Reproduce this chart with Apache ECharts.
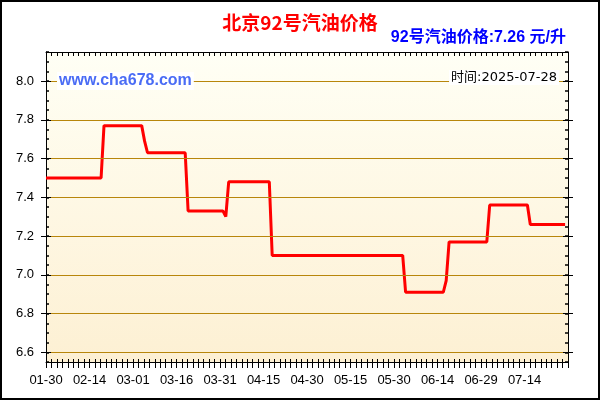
<!DOCTYPE html>
<html>
<head>
<meta charset="utf-8">
<title>北京92号汽油价格</title>
<script src="https://cdn.jsdelivr.net/npm/echarts@6.0.0/dist/echarts.min.js"></script>
<style>
  html, body { margin: 0; padding: 0; background: #fff; }
  .echarts_1 { width: 600px; height: 400px; }
</style>
</head>
<body>
<div class="echarts_1"></div>
<script>
  // 数据：日期和当天的92号汽油价格（元/升）
  var startDate = '2025-01-30';
  var dates = ['2025-01-30', '2025-02-18', '2025-02-19', '2025-03-04', '2025-03-05', '2025-03-06',
               '2025-03-19', '2025-03-20', '2025-04-01', '2025-04-02', '2025-04-03', '2025-04-17',
               '2025-04-18', '2025-06-02', '2025-06-03', '2025-06-16', '2025-06-17', '2025-06-18',
               '2025-07-01', '2025-07-02', '2025-07-15', '2025-07-16', '2025-07-28'];
  var prices = [7.50, 7.50, 7.77, 7.77, 7.69, 7.63,
                7.63, 7.33, 7.33, 7.30, 7.48, 7.48,
                7.10, 7.10, 6.91, 6.91, 6.97, 7.17,
                7.17, 7.36, 7.36, 7.26, 7.26];
  // y轴刻度（网格线）
  var yTicks = [6.6, 6.8, 7.0, 7.2, 7.4, 7.6, 7.8, 8.0];

  var DAY = 86400000;
  var t0 = Date.parse(startDate);
  function dayOf(s) { return (Date.parse(s) - t0) / DAY; }
  function pad(n) { return n < 10 ? '0' + n : '' + n; }
  function fmtDay(v) {
    var d = new Date(t0 + v * DAY);
    return pad(d.getUTCMonth() + 1) + '-' + pad(d.getUTCDate());
  }
  function fmtPrice(v) {
    var k = v * 5;
    return Math.abs(k - Math.round(k)) < 1e-6 ? v.toFixed(1) : '';
  }

  var lineData = dates.map(function (d, i) { return [dayOf(d), prices[i]]; });

  // 坐标轴线样式
  function axisLine() { return { show: true, onZero: false, lineStyle: { color: '#000', width: 1 } }; }
  // 用一个很矮的grid的分隔线来画x轴上的刻度
  function tickAxis(gridIndex) {
    return {
      gridIndex: gridIndex, type: 'value', min: 0, max: 180, interval: 15,
      axisLine: { show: false }, axisTick: { show: false }, axisLabel: { show: false },
      splitLine: { show: true, lineStyle: { color: '#000', width: 1 } },
      minorTick: { show: false, splitNumber: 8 },
      minorSplitLine: { show: true, lineStyle: { color: '#000', width: 1 } }
    };
  }
  function hiddenAxis(gridIndex, min, max) {
    return { gridIndex: gridIndex, type: 'value', min: min, max: max, show: false };
  }
  // y轴主刻度（穿过坐标轴的短线）
  function majorTicks(axisIndex) {
    return {
      type: 'line', data: [], xAxisIndex: axisIndex, yAxisIndex: axisIndex, silent: true, z: 4,
      markLine: {
        silent: true, symbol: 'none', animation: false,
        label: { show: false },
        lineStyle: { color: '#000', width: 1, type: 'solid' },
        emphasis: { disabled: true },
        data: yTicks.map(function (v) { return { yAxis: v }; })
      }
    };
  }

  var chart = echarts.init(document.querySelector('.echarts_1'));
  var option = {
    animation: false,
    backgroundColor: '#fff',
    title: [{
      text: '北京92号汽油价格',
      left: 'center', top: 13, padding: 0,
      textStyle: { color: '#ff0000', fontSize: 19, fontWeight: 'bold', fontFamily: 'Noto Sans CJK SC' }
    }, {
      text: '92号汽油价格:7.26 元/升',
      right: 34, top: 30, padding: 0,
      textStyle: { color: '#0000ff', fontSize: 16, fontWeight: 'bold', fontFamily: 'Liberation Sans, Noto Sans CJK SC' }
    }],
    grid: [{
      left: 46, right: 32, top: 52, height: 310,
      show: true, borderWidth: 0,
      backgroundColor: new echarts.graphic.LinearGradient(0, 0, 0, 1, [
        { offset: 0, color: '#fffff5' },
        { offset: 1, color: '#fdf0d3' }
      ])
    },
    { left: 46, right: 32, top: 359, height: 9 },   // 下边刻度
    { left: 46, right: 32, top: 52, height: 4 },    // 上边刻度
    { left: 41, width: 10, top: 52, height: 310 },  // 左边主刻度
    { left: 563, width: 10, top: 52, height: 310 }  // 右边主刻度
    ],
    xAxis: [{
      gridIndex: 0, type: 'value', min: 0, max: 180, interval: 15, position: 'bottom',
      axisLine: axisLine(),
      axisTick: { show: false },
      axisLabel: { margin: 12, color: '#000', fontSize: 13, fontFamily: 'Liberation Sans',
                   formatter: fmtDay, showMinLabel: true, showMaxLabel: false },
      splitLine: { show: false }
    }, {
      gridIndex: 0, type: 'value', min: 0, max: 180, interval: 15, position: 'top',
      axisLine: axisLine(),
      axisTick: { show: false },
      axisLabel: { show: false },
      splitLine: { show: false }
    },
    tickAxis(1),
    tickAxis(2),
    hiddenAxis(3, 0, 1),
    hiddenAxis(4, 0, 1)
    ],
    yAxis: [{
      gridIndex: 0, type: 'value', min: 6.55, max: 8.15, interval: 0.05, position: 'left',
      axisLine: axisLine(),
      axisTick: { show: true, inside: true, length: 3, lineStyle: { color: '#000', width: 1.5 } },
      axisLabel: { margin: 12, color: '#000', fontSize: 13, fontFamily: 'Liberation Sans', formatter: fmtPrice },
      splitLine: { show: false }
    }, {
      gridIndex: 0, type: 'value', min: 6.55, max: 8.15, interval: 0.05, position: 'right',
      axisLine: axisLine(),
      axisTick: { show: true, inside: true, length: 3, lineStyle: { color: '#000', width: 1.5 } },
      axisLabel: { show: false },
      splitLine: { show: false }
    },
    hiddenAxis(1, 0, 1),
    hiddenAxis(2, 0, 1),
    hiddenAxis(3, 6.55, 8.15),
    hiddenAxis(4, 6.55, 8.15)
    ],
    series: [{
      // 网格线
      type: 'line', data: [], xAxisIndex: 0, yAxisIndex: 0, z: 1, silent: true,
      markLine: {
        silent: true, symbol: 'none', animation: false,
        label: { show: false },
        lineStyle: { color: '#b8860b', width: 1, type: 'solid' },
        emphasis: { disabled: true },
        data: yTicks.map(function (v) { return { yAxis: v }; })
      }
    }, {
      name: '92号汽油',
      type: 'line', xAxisIndex: 0, yAxisIndex: 0, z: 3,
      data: lineData,
      symbol: 'none',
      lineStyle: { color: '#ff0000', width: 3 }
    },
    majorTicks(4),
    majorTicks(5)
    ],
    graphic: [{
      type: 'text', left: 57, top: 72, z: 10,
      style: { text: 'www.cha678.com', fill: '#4a6cf5', font: 'bold 16px "Liberation Sans"',
               backgroundColor: '#fff', padding: [1, 2] }
    }, {
      type: 'text', right: 41, top: 70, z: 10,
      style: { text: '时间:2025-07-28', fill: '#000', font: '13px "DejaVu Sans", "Noto Sans CJK SC"',
               backgroundColor: '#fff', padding: [1, 2] }
    }, {
      type: 'rect', z: 100, silent: true,
      shape: { x: 1, y: 1, width: 598, height: 398 },
      style: { fill: 'none', stroke: '#000', lineWidth: 2 }
    }]
  };
  chart.setOption(option);
</script>
</body>
</html>
